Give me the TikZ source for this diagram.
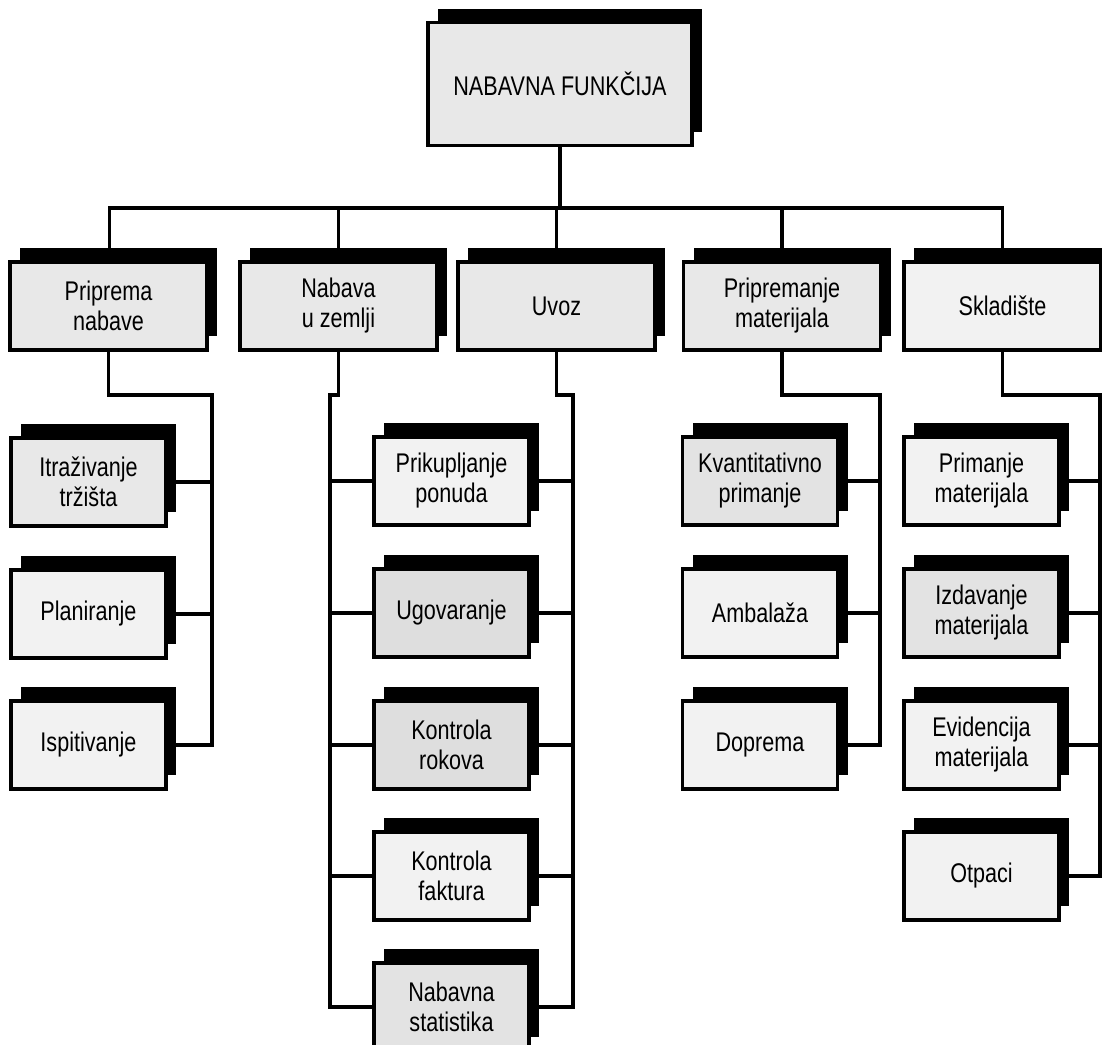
\documentclass[tikz,border=0pt]{standalone}
\usepackage{fontspec}
\setmainfont{Liberation Sans}[FakeStretch=0.8]
\usetikzlibrary{shadows}
\begin{document}
\begin{tikzpicture}[x=1pt,y=-1pt,
  box/.style={draw=black,line width=3.4pt,fill=black!9,align=center,
    font=\fontsize{27}{30}\selectfont,inner sep=0pt,
    drop shadow={shadow xshift=10pt,shadow yshift=14pt,fill=black,opacity=1}},
  topbox/.style={box,minimum width=264pt,minimum height=123pt},
  mainbox/.style={box,minimum width=197pt,minimum height=88pt},
  subbox/.style={box,minimum width=155pt,minimum height=88pt},
  link/.style={line width=3.2pt,line cap=rect}]
\path[use as bounding box,fill=white] (0,0) rectangle (1102,1044);
% top
\node[topbox] (top) at (560,84) {NABAVNA FUNKČIJA};
% level 1
\node[mainbox] (p1) at (108.5,306) {Priprema\\nabave};
\node[mainbox] (p2) at (338.5,306) {Nabava\\u zemlji};
\node[mainbox] (p3) at (556.5,306) {Uvoz};
\node[mainbox] (p4) at (782,306) {Pripremanje\\materijala};
\node[mainbox,fill=black!5] (p5) at (1002.5,306) {Skladište};
% left column
\node[subbox] (l1) at (88.5,482) {Itraživanje\\tržišta};
\node[subbox,fill=black!5] (l2) at (88.5,614) {Planiranje};
\node[subbox,fill=black!5] (l3) at (88.5,745) {Ispitivanje};
% middle column
\node[subbox,fill=black!5] (m1) at (451.5,481) {Prikupljanje\\ponuda};
\node[subbox,fill=black!13] (m2) at (451.5,613) {Ugovaranje};
\node[subbox,fill=black!13] (m3) at (451.5,745) {Kontrola\\rokova};
\node[subbox,fill=black!5] (m4) at (451.5,876) {Kontrola\\faktura};
\node[subbox,fill=black!11] (m5) at (451.5,1007) {Nabavna\\statistika};
% right-middle column
\node[subbox,fill=black!11] (r1) at (760,481) {Kvantitativno\\primanje};
\node[subbox,fill=black!5] (r2) at (760,613) {Ambalaža};
\node[subbox,fill=black!5] (r3) at (760,745) {Doprema};
% right column
\node[subbox,fill=black!5] (s1) at (981.5,481) {Primanje\\materijala};
\node[subbox,fill=black!11] (s2) at (981.5,613) {Izdavanje\\materijala};
\node[subbox,fill=black!5] (s3) at (981.5,745) {Evidencija\\materijala};
\node[subbox,fill=black!5] (s4) at (981.5,876) {Otpaci};
% bus
\coordinate (busy) at (0,208);
\draw[link] (top.south) -- (top.south |- busy);
\draw[link] ([xshift=1pt]p1.north) |- (p5.north |- busy) -- (p5.north);
\draw[link] (p2.north) -- (p2.north |- busy);
\draw[link] (p3.north) -- (p3.north |- busy);
\draw[link] (p4.north) -- (p4.north |- busy);
% trunks
\coordinate (t1) at (212,395);
\coordinate (t2) at (330,395);
\coordinate (t3) at (573,395);
\coordinate (t4) at (880,395);
\coordinate (t5) at (1100,395);
\draw[link] (p1.south) |- (t1) |- (l3.east);
\draw[link] (l1.east) -- (l1.east -| t1);
\draw[link] (l2.east) -- (l2.east -| t1);
\draw[link] (p2.south) |- (t2) |- (m5.west);
\draw[link] (p3.south) |- (t3) |- (m5.east);
\foreach \n in {m1,m2,m3,m4}{
  \draw[link] (\n.west) -- (\n.west -| t2);
  \draw[link] (\n.east) -- (\n.east -| t3);
}
\draw[link] (p4.south) |- (t4) |- (r3.east);
\draw[link] (r1.east) -- (r1.east -| t4);
\draw[link] (r2.east) -- (r2.east -| t4);
\draw[link] (p5.south) |- (t5) |- (s4.east);
\foreach \n in {s1,s2,s3}{
  \draw[link] (\n.east) -- (\n.east -| t5);
}
\end{tikzpicture}
\end{document}
